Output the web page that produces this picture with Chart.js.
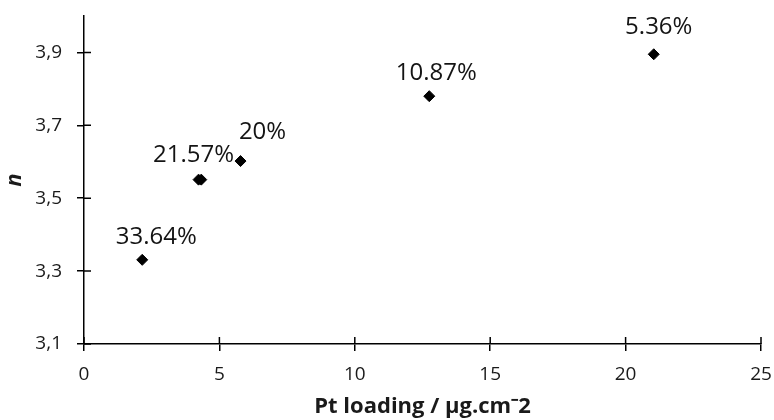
<!DOCTYPE html>
<html>
<head>
<meta charset="utf-8">
<script src="https://cdn.jsdelivr.net/npm/chart.js@4/dist/chart.umd.min.js"></script>
<style>
    body { margin: 0; background: #fff; }
    #wrap { width: 774px; height: 420px; }
</style>
</head>
<body>
<div id="wrap"><canvas id="nChart"></canvas></div>
<script>
// Data
const loading = [2.15, 4.23, 4.33, 5.78, 12.75, 21.04];   // Pt loading, µg.cm-2
const nValues = [3.331, 3.551, 3.551, 3.602, 3.780, 3.895];
const pointLabels = ['33.64%', '21.57%', '', '20%', '10.87%', '5.36%'];
const xTicks = [0, 5, 10, 15, 20, 25];
const yTicks = [3.1, 3.3, 3.5, 3.7, 3.9];

// where each percentage sits relative to its marker (px)
const labelOffsets = [[14, -23], [-5, -24], [0, 0], [22, -29], [7, -23], [5, -27]];

const AXIS_COLOR = '#000';
const TEXT_COLOR = '#1a1a1a';
const TICK_LEN = 7;

// Draw the percentage next to every point
const pointLabelPlugin = {
    id: 'pointLabels',
    afterDatasetsDraw(chart) {
        const ctx = chart.ctx;
        const meta = chart.getDatasetMeta(0);
        ctx.save();
        ctx.font = '24px "Open Sans"';
        ctx.fillStyle = '#141414';
        ctx.textAlign = 'center';
        ctx.textBaseline = 'middle';
        meta.data.forEach((pt, i) => {
            if (!pointLabels[i]) return;
            const [dx, dy] = labelOffsets[i];
            ctx.fillText(pointLabels[i], pt.x + dx, pt.y + dy);
        });
        ctx.restore();
    }
};

// Excel-style ticks that cross the axis: add the inner half
const innerTicksPlugin = {
    id: 'innerTicks',
    afterDraw(chart) {
        const ctx = chart.ctx;
        const { x, y } = chart.scales;
        ctx.save();
        ctx.strokeStyle = AXIS_COLOR;
        ctx.lineWidth = 1.5;
        ctx.beginPath();
        x.ticks.forEach(t => {
            const px = x.getPixelForValue(t.value);
            ctx.moveTo(px, y.bottom);
            ctx.lineTo(px, y.bottom - TICK_LEN);
        });
        y.ticks.forEach(t => {
            const py = y.getPixelForValue(t.value);
            ctx.moveTo(x.left, py);
            ctx.lineTo(x.left + TICK_LEN, py);
        });
        ctx.stroke();
        ctx.restore();
    }
};

const ctx = document.getElementById('nChart').getContext('2d');
const nChart = new Chart(ctx, {
    type: 'scatter',
    data: {
        datasets: [{
            data: loading.map((v, i) => ({ x: v, y: nValues[i] })),
            pointStyle: 'rectRot',
            pointRadius: 5.5,
            pointHoverRadius: 5.5,
            backgroundColor: '#000',
            borderColor: '#000',
            borderWidth: 1
        }]
    },
    options: {
        responsive: true,
        maintainAspectRatio: false,
        animation: false,
        layout: {
            padding: { top: 16, right: 13, bottom: 0, left: 0 }
        },
        plugins: {
            legend: { display: false },
            tooltip: { enabled: false }
        },
        scales: {
            x: {
                type: 'linear',
                min: 0,
                max: 25,
                afterBuildTicks: scale => { scale.ticks = xTicks.map(v => ({ value: v })); },
                afterFit: scale => {
                    scale.height = 76;
                    scale.paddingLeft = 0;
                    scale.paddingRight = 0;
                },
                grid: {
                    drawOnChartArea: false,
                    drawTicks: true,
                    tickLength: TICK_LEN,
                    color: AXIS_COLOR,
                    lineWidth: 1.5
                },
                border: { display: true, color: AXIS_COLOR, width: 1.5 },
                ticks: {
                    padding: 12,
                    color: TEXT_COLOR,
                    font: { family: 'Open Sans', size: 19 },
                    maxRotation: 0
                },
                title: {
                    display: true,
                    text: 'Pt loading / µg.cm⁻2',
                    color: TEXT_COLOR,
                    font: { family: 'Open Sans', size: 22, weight: 'bold' },
                    padding: { top: 0, bottom: 0 }
                }
            },
            y: {
                type: 'linear',
                min: 3.1,
                max: 4.0,
                afterBuildTicks: scale => { scale.ticks = yTicks.map(v => ({ value: v })); },
                afterFit: scale => {
                    scale.width = 84;
                    scale.paddingTop = 0;
                    scale.paddingBottom = 0;
                },
                grid: {
                    drawOnChartArea: false,
                    drawTicks: true,
                    tickLength: TICK_LEN,
                    color: AXIS_COLOR,
                    lineWidth: 1.5
                },
                border: { display: true, color: AXIS_COLOR, width: 1.5 },
                ticks: {
                    padding: 15,
                    color: TEXT_COLOR,
                    font: { family: 'Open Sans', size: 19 },
                    callback: value => value.toFixed(1).replace('.', ',')
                },
                title: {
                    display: true,
                    text: 'n',
                    color: TEXT_COLOR,
                    font: { family: 'Open Sans', size: 22, weight: 'bold', style: 'italic' },
                    padding: { top: 2, bottom: 0 }
                }
            }
        }
    },
    plugins: [pointLabelPlugin, innerTicksPlugin]
});
</script>
</body>
</html>
